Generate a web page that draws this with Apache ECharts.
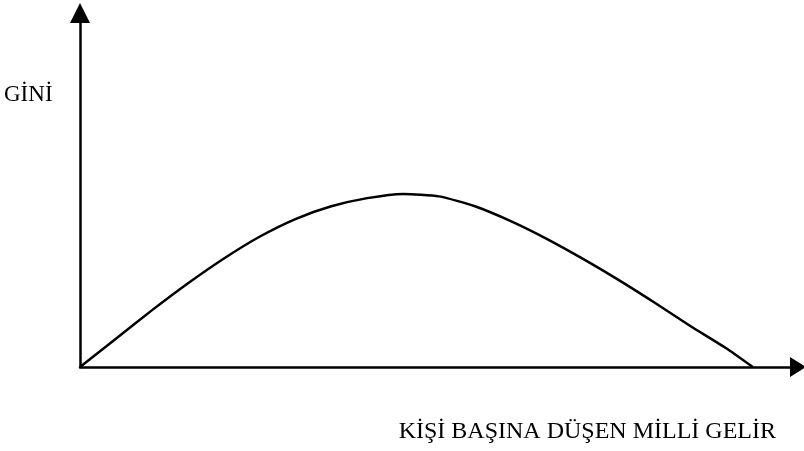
<!DOCTYPE html>
<html>
<head>
<meta charset="utf-8">
<script src="https://cdn.jsdelivr.net/npm/echarts@6/dist/echarts.min.js"></script>
<style>
  html, body { margin: 0; padding: 0; background: #fff; }
  #chart { width: 804px; height: 451px; }
</style>
</head>
<body>
<div id="chart"></div>
<script>
// Kuznets curve: income per capita (x) vs Gini (y)
const incomeValues = [0, 5, 10, 15, 20, 25, 30, 35, 40, 45, 50, 55, 60, 65, 70, 75, 80, 85, 90, 93.7];
const giniValues   = [0, 8.0, 16.0, 23.6, 30.6, 36.8, 41.8, 45.4, 47.7, 48.9, 48.2, 45.4, 41.2, 36.2, 30.6, 24.6, 18.2, 11.6, 5.3, 0];
const yAxisTitle = 'GİNİ';
const xAxisTitle = 'KİŞİ BAŞINA DÜŞEN MİLLİ GELİR';

const chart = echarts.init(document.getElementById('chart'), null, { renderer: 'canvas' });
const axisCommon = {
  type: 'value',
  min: 0,
  max: 100,
  axisLabel: { show: false },
  axisTick: { show: false },
  splitLine: { show: false }
};
chart.setOption({
  animation: false,
  backgroundColor: '#ffffff',
  grid: { left: 80, right: 6, top: 13, bottom: 84, containLabel: false, outerBoundsMode: 'none' },
  xAxis: Object.assign({}, axisCommon, {
    axisLine: { show: true, onZero: false, symbol: ['none', 'triangle'], symbolSize: [20, 16],
      lineStyle: { color: '#000', width: 2.5 } }
  }),
  yAxis: Object.assign({}, axisCommon, {
    axisLine: { show: true, onZero: false, symbol: ['none', 'triangle'], symbolSize: [20, 20],
      lineStyle: { color: '#000', width: 2.5 } }
  }),
  series: [{
    type: 'line',
    data: incomeValues.map((x, i) => [x, giniValues[i]]),
    smooth: 0.2,
    showSymbol: false,
    lineStyle: { color: '#000', width: 2.5, join: 'round' }
  }],
  graphic: [
    { type: 'text', left: 4, top: 83,
      style: { text: yAxisTitle, font: '23px "Liberation Serif", "DejaVu Serif", serif', fill: '#000' } },
    { type: 'text', right: 28, top: 420,
      style: { text: xAxisTitle, font: '24px "Liberation Serif", "DejaVu Serif", serif', fill: '#000' } }
  ]
});
</script>
</body>
</html>
